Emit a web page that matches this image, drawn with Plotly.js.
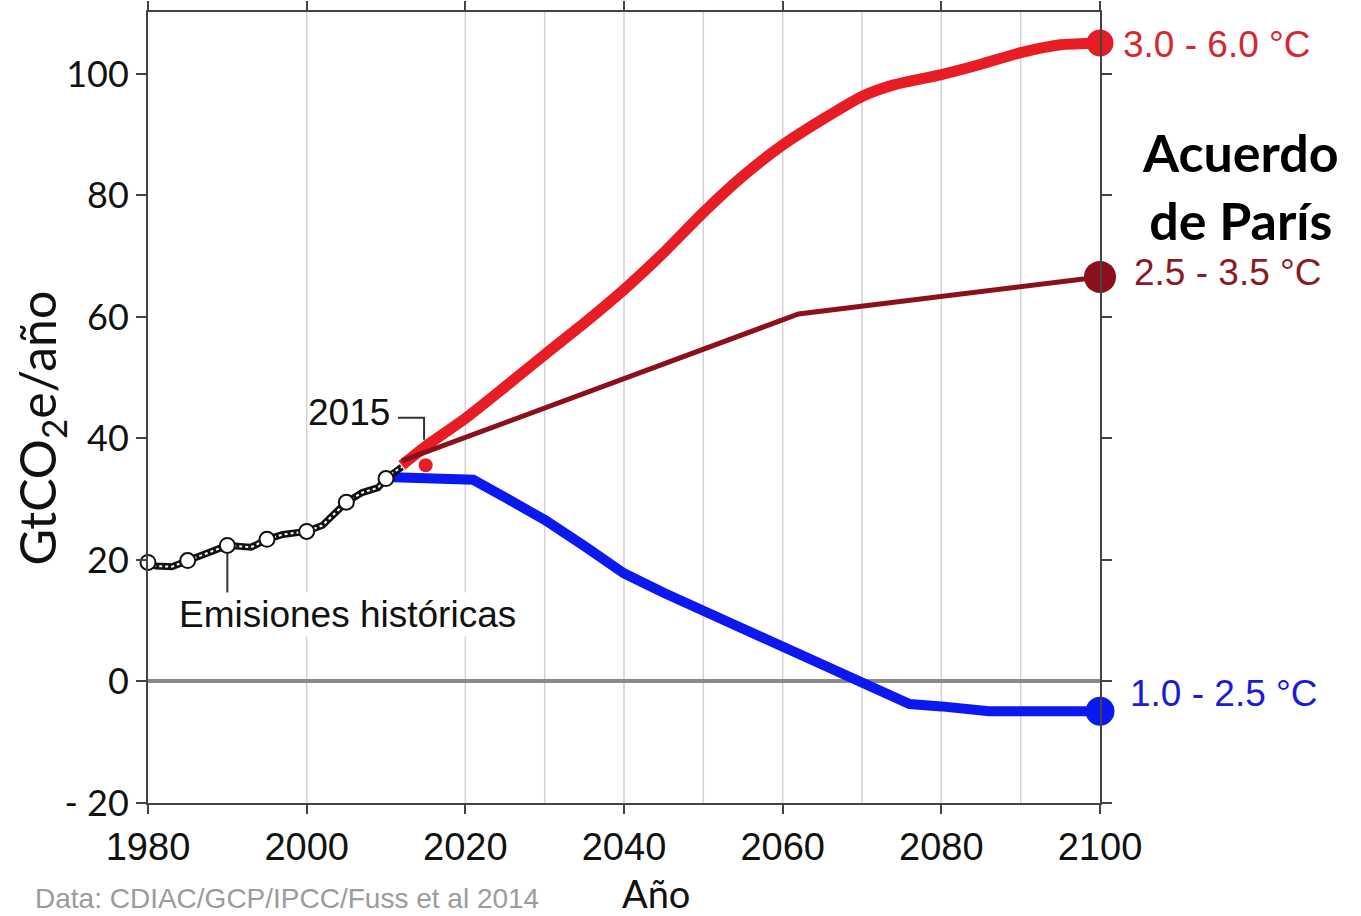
<!DOCTYPE html>
<html>
<head>
<meta charset="utf-8">
<script src="https://cdn.plot.ly/plotly-3.0.1.min.js"></script>
<style>html,body{margin:0;padding:0;background:#fff;}#chart{width:1361px;height:916px;}</style>
</head>
<body>
<div id="chart"></div>
<script>
// Historical emissions
const histYears  = [1980,1981,1983,1985,1987,1990,1992,1993,1995,1997,2000,2002,2003,2005,2007,2009,2010,2011,2012];
const histValues = [19.6,19.0,18.9,19.9,21.0,22.4,22.2,22.1,23.4,24.2,24.7,25.7,27.0,29.5,31.1,31.9,33.4,34.5,35.3];
const histMarkYears  = [1980,1985,1990,1995,2000,2005,2010];
const histMarkValues = [19.6,19.9,22.4,23.4,24.7,29.5,33.4];

// Scenario 3.0 - 6.0 °C
const redYears  = [2012,2015,2020,2025,2030,2035,2040,2045,2050,2055,2060,2065,2070,2074,2080,2085,2090,2095,2100];
const redValues = [35.6,38.7,43.3,48.5,53.8,59.0,64.5,70.6,77.2,83.2,88.3,92.5,96.3,98.2,99.9,101.6,103.5,104.8,105.1];

// Scenario 2.5 - 3.5 °C
const darkYears  = [2012,2062,2100];
const darkValues = [36.3,60.5,66.6];

// Scenario 1.0 - 2.5 °C
const blueYears  = [2011,2015,2021,2025,2030,2035,2040,2045,2050,2055,2060,2065,2070,2076,2080,2086,2090,2100];
const blueValues = [33.6,33.5,33.2,30.3,26.6,22.3,17.8,14.6,11.6,8.6,5.6,2.5,-0.5,-3.7,-4.1,-4.9,-4.9,-4.9];

// 2015 point
const point2015Year  = [2015];
const point2015Value = [35.6];

// Axes
const xTickVals = [1980,2000,2020,2040,2060,2080,2100];
const xTickText = ['1980','2000','2020','2040','2060','2080','2100'];
const yTickVals = [-20,0,20,40,60,80,100];
const yTickText = ['- 20','0','20','40','60','80','100'];
const gridYears = [2000,2020,2030,2040,2050,2060,2070,2080,2090];

const RED = '#e81c24', DARK = '#8c101c', BLUE = '#0c18f0';
const last = a => [a[a.length-1]];

const traces = [
  {x: redYears, y: redValues, mode:'lines', line:{color:RED, width:11, shape:'spline', smoothing:0.6}, hoverinfo:'skip'},
  {x: darkYears, y: darkValues, mode:'lines', line:{color:DARK, width:5}, hoverinfo:'skip'},
  {x: blueYears, y: blueValues, mode:'lines', line:{color:BLUE, width:10}, hoverinfo:'skip'},
  {x: histYears, y: histValues, mode:'lines', line:{color:'#111', width:7}, hoverinfo:'skip'},
  {x: histYears, y: histValues, mode:'lines', line:{color:'#fff', width:2, dash:'dot'}, hoverinfo:'skip'},
  {x: histMarkYears, y: histMarkValues, mode:'markers', cliponaxis:false,
   marker:{size:15, color:'#fff', line:{color:'#111', width:2}}, hoverinfo:'skip'},
  {x: point2015Year, y: point2015Value, mode:'markers', marker:{size:14, color:RED}, hoverinfo:'skip'},
  {x: last(redYears), y: last(redValues), mode:'markers', cliponaxis:false, marker:{size:27, color:RED}, hoverinfo:'skip'},
  {x: last(darkYears), y: last(darkValues), mode:'markers', cliponaxis:false, marker:{size:32, color:DARK}, hoverinfo:'skip'},
  {x: last(blueYears), y: last(blueValues), mode:'markers', cliponaxis:false, marker:{size:29, color:BLUE}, hoverinfo:'skip'}
];

const shapes = gridYears.map(g => ({type:'line', xref:'x', yref:'paper', x0:g, x1:g, y0:0, y1:1,
  line:{color:'#d2d2d2', width:1.5}, layer:'below'}));
shapes.push({type:'line', xref:'x', yref:'y', x0:1990, x1:1990, y0:21, y1:13.6, line:{color:'#333', width:2}});
shapes.push({type:'path', xref:'x', yref:'y', path:'M 2011.5 43.4 L 2014.8 43.4 L 2014.8 39.8', line:{color:'#333', width:2}});

const annotations = [
  {text:'GtCO<sub>2</sub>e/año', textangle:-90, xref:'paper', yref:'paper', x:-0.113, y:0.474,
   xanchor:'center', yanchor:'middle', showarrow:false, font:{family:'Lato, sans-serif', size:50, color:'#111'}},
  {text:'Año', xref:'paper', yref:'paper', x:0.534, y:-0.114, xanchor:'center', yanchor:'middle', showarrow:false,
   font:{family:'Lato, sans-serif', size:38, color:'#111'}},
  {text:'Data: CDIAC/GCP/IPCC/Fuss et al 2014', xref:'paper', yref:'paper', x:-0.121, y:-0.121,
   xanchor:'left', yanchor:'middle', showarrow:false, font:{family:'Liberation Sans, Arial, sans-serif', size:28, color:'#9c9c9c'}},
  {text:'Emisiones históricas', xref:'x', yref:'y', x:2005.1, y:11.0, xanchor:'center', yanchor:'middle', showarrow:false, bgcolor:'#fff',
   font:{family:'Liberation Sans, Arial, sans-serif', size:37, color:'#111'}},
  {text:'2015', xref:'x', yref:'y', x:2005.3, y:44.3, xanchor:'center', yanchor:'middle', showarrow:false,
   font:{family:'Liberation Sans, Arial, sans-serif', size:37, color:'#111'}},
  {text:'3.0 - 6.0 °C', xref:'paper', yref:'y', x:1.022, y:104.9, xanchor:'left', yanchor:'middle', showarrow:false,
   font:{family:'Liberation Sans, Arial, sans-serif', size:37, color:'#d8262e'}},
  {text:'2.5 - 3.5 °C', xref:'paper', yref:'y', x:1.034, y:67.3, xanchor:'left', yanchor:'middle', showarrow:false,
   font:{family:'Liberation Sans, Arial, sans-serif', size:37, color:'#8c1a24'}},
  {text:'1.0 - 2.5 °C', xref:'paper', yref:'y', x:1.029, y:-2.0, xanchor:'left', yanchor:'middle', showarrow:false,
   font:{family:'Liberation Sans, Arial, sans-serif', size:37, color:'#1a1ad8'}},
  {text:'<b>Acuerdo<br>de París</b>', xref:'paper', yref:'y', x:1.148, y:81.6, xanchor:'center', yanchor:'middle',
   showarrow:false, align:'center', font:{family:'Lato, sans-serif', size:52, color:'#000'}}
];

const layout = {
  width:1361, height:916,
  margin:{l:148, r:261, t:12, b:113, pad:0},
  paper_bgcolor:'#fff', plot_bgcolor:'#fff',
  showlegend:false,
  xaxis:{range:[1980,2100], tickvals:xTickVals, ticktext:xTickText, showgrid:false, zeroline:false,
    showline:true, linecolor:'#444', linewidth:2, mirror:'ticks', ticks:'outside', ticklen:9, tickwidth:2, tickcolor:'#444',
    tickfont:{family:'Liberation Sans, Arial, sans-serif', size:38, color:'#111'}},
  yaxis:{range:[-20,110.2], tickvals:yTickVals, ticktext:yTickText, showgrid:false,
    zeroline:true, zerolinecolor:'#8a8a8a', zerolinewidth:4,
    showline:true, linecolor:'#444', linewidth:2, mirror:'ticks', ticks:'outside', ticklen:10, tickwidth:2, tickcolor:'#444',
    tickfont:{family:'Lato, sans-serif', size:36, color:'#111'}},
  shapes:shapes,
  annotations:annotations
};

Plotly.newPlot('chart', traces, layout, {displayModeBar:false, staticPlot:true});
</script>
</body>
</html>
